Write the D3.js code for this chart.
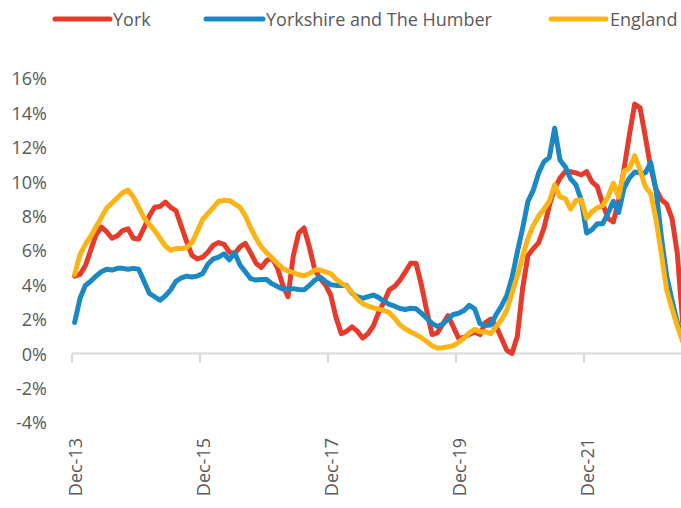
<!DOCTYPE html>
<html>
<head>
<meta charset="utf-8">
<script src="https://cdn.jsdelivr.net/npm/d3@7"></script>
<style>
  html, body { margin: 0; padding: 0; background: #fff; }
  svg { display: block; }
  text { font-family: "Open Sans", Lato, sans-serif; fill: #595959; }
</style>
</head>
<body>
<svg id="chart" width="681" height="508"></svg>
<script>
// ---- Data (annual % change, monthly Dec-13 .. Jun-23) ----
const seriesNames = ["York", "Yorkshire and The Humber", "England"];
const seriesColors = ["#e63a2b", "#1a88c3", "#fbb316"];

const york = [
  4.5, 4.6, 5.1, 6.0, 6.9, 7.35, 7.08, 6.7, 6.85, 7.15, 7.25, 6.7, 6.65,
  7.3, 8.0, 8.5, 8.55, 8.8, 8.5, 8.3, 7.4, 6.5, 5.7, 5.5, 5.6,
  5.9, 6.3, 6.45, 6.35, 5.9, 5.8, 6.2, 6.4, 5.85, 5.25, 5.0, 5.4,
  5.55, 5.0, 4.0, 3.3, 5.7, 7.0, 7.3, 6.2, 4.9, 4.35, 4.0, 3.4,
  2.1, 1.15, 1.3, 1.55, 1.3, 0.9, 1.15, 1.6, 2.4, 3.0, 3.7, 3.9,
  4.27, 4.75, 5.25, 5.25, 4.0, 2.5, 1.1, 1.2, 1.7, 2.2, 1.55, 0.88,
  0.95, 1.1, 1.25, 1.1, 1.8, 2.0, 1.6, 0.9, 0.2, 0.0, 1.0, 3.8,
  5.7, 6.1, 6.45, 7.3, 8.6, 9.6, 10.2, 10.57, 10.57, 10.5, 10.38, 10.57,
  9.98, 9.7, 8.7, 7.85, 7.65, 8.9, 10.7, 12.7, 14.5, 14.3, 12.6, 10.8,
  9.55, 8.95, 8.68, 7.85, 5.8, 1.8
];
const yorkshire = [
  1.8, 3.2, 3.95, 4.2, 4.5, 4.75, 4.9, 4.85, 4.95, 4.95, 4.9, 4.95, 4.9,
  4.2, 3.5, 3.3, 3.1, 3.35, 3.7, 4.2, 4.4, 4.5, 4.45, 4.5, 4.65,
  5.2, 5.5, 5.6, 5.8, 5.45, 5.85, 5.15, 4.75, 4.35, 4.27, 4.3, 4.3,
  4.05, 3.9, 3.75, 3.75, 3.77, 3.72, 3.7, 3.95, 4.25, 4.45, 4.2, 4.0,
  3.96, 3.95, 3.95, 3.5, 3.3, 3.2, 3.3, 3.4, 3.25, 3.05, 2.85, 2.75,
  2.62, 2.56, 2.63, 2.6, 2.35, 2.05, 1.75, 1.58, 1.7, 2.0, 2.27, 2.34,
  2.5, 2.8, 2.6, 1.73, 1.63, 1.65, 2.25, 2.75, 3.35, 4.4, 5.9, 7.3,
  8.85, 9.5, 10.5, 11.15, 11.4, 13.1, 11.25, 10.85, 10.15, 9.8, 8.9, 7.0,
  7.2, 7.55, 7.55, 8.15, 8.85, 8.2, 9.6, 10.2, 10.55, 10.5, 10.5, 11.1,
  9.5, 6.8, 4.5, 3.1, 1.8, 0.9
];
const england = [
  4.6, 5.75, 6.35, 6.8, 7.35, 7.9, 8.45, 8.75, 9.05, 9.35, 9.5, 9.1, 8.5,
  7.9, 7.5, 7.15, 6.7, 6.25, 6.0, 6.1, 6.1, 6.15, 6.45, 7.1, 7.8,
  8.15, 8.5, 8.85, 8.9, 8.9, 8.7, 8.5, 8.0, 7.3, 6.7, 6.2, 5.85,
  5.55, 5.25, 4.95, 4.8, 4.7, 4.58, 4.52, 4.65, 4.85, 4.85, 4.75, 4.65,
  4.33, 4.1, 3.9, 3.55, 3.15, 2.9, 2.76, 2.66, 2.58, 2.5, 2.37, 2.05,
  1.66, 1.43, 1.25, 1.1, 0.92, 0.7, 0.45, 0.32, 0.33, 0.39, 0.46, 0.65,
  0.9, 1.2, 1.4, 1.27, 1.27, 1.15, 1.55, 1.95, 2.5, 3.5, 4.5, 5.65,
  6.7, 7.45, 8.0, 8.4, 8.85, 9.8, 9.1, 9.0, 8.4, 8.9, 8.92, 7.86,
  8.25, 8.47, 8.6, 9.1, 9.9, 9.1, 10.6, 10.75, 11.5, 10.67, 9.7, 9.3,
  7.8, 5.8, 3.7, 2.6, 1.6, 0.7
];
const yTicks = [-4, -2, 0, 2, 4, 6, 8, 10, 12, 14, 16];
const xTickLabels = ["Dec-13", "Dec-15", "Dec-17", "Dec-19", "Dec-21"];

// ---- Categories: months Dec-13 .. Jun-23 ----
const fmt = d3.timeFormat("%b-%y");
const months = d3.timeMonth.range(new Date(2013, 11, 1), new Date(2023, 6, 1)).map(fmt);

const svg = d3.select("#chart");
const plotLeft = 72, monthW = 128 / 24;

const x = d3.scaleBand()
  .domain(months)
  .range([plotLeft, plotLeft + months.length * monthW])
  .paddingInner(0).paddingOuter(0);
const y = d3.scaleLinear().domain([-4, 16]).range([422.3, 78.3]);

// Y labels
svg.append("g").selectAll("text").data(yTicks).join("text")
  .attr("x", 47).attr("y", d => y(d))
  .attr("text-anchor", "end").attr("dominant-baseline", "central")
  .style("font-size", "18px")
  .text(d => d + "%");

// Zero axis line + ticks
const axisG = svg.append("g");
axisG.append("line")
  .attr("x1", x(months[0])).attr("x2", x(months[months.length - 1]) + x.bandwidth())
  .attr("y1", y(0)).attr("y2", y(0))
  .attr("stroke", "#d9d9d9").attr("stroke-width", 2);
axisG.selectAll("line.tick").data(xTickLabels).join("line")
  .attr("class", "tick")
  .attr("x1", d => x(d)).attr("x2", d => x(d))
  .attr("y1", y(0)).attr("y2", y(0) + 9)
  .attr("stroke", "#d9d9d9").attr("stroke-width", 2);

// X labels (low position, rotated)
svg.append("g").selectAll("text").data(xTickLabels).join("text")
  .attr("transform", d => `translate(${x(d) + x.bandwidth() / 2},438) rotate(-90)`)
  .attr("text-anchor", "end").attr("dominant-baseline", "central")
  .style("font-size", "18px")
  .text(d => d);

// Lines
const allSeries = [york, yorkshire, england];
const line = d3.line()
  .x((d, i) => x(months[i]) + x.bandwidth() / 2)
  .y(d => y(d));
svg.append("g").selectAll("path").data(allSeries).join("path")
  .attr("d", d => line(d))
  .attr("fill", "none")
  .attr("stroke", (d, i) => seriesColors[i])
  .attr("stroke-width", 5)
  .attr("stroke-linejoin", "round")
  .attr("stroke-linecap", "round");

// Legend
const legendX = [[55, 110, 113], [206, 263, 266], [551, 606, 610]];
const lg = svg.append("g");
seriesNames.forEach((name, i) => {
  lg.append("line")
    .attr("x1", legendX[i][0]).attr("x2", legendX[i][1])
    .attr("y1", 19).attr("y2", 19)
    .attr("stroke", seriesColors[i]).attr("stroke-width", 5)
    .attr("stroke-linecap", "round");
  lg.append("text")
    .attr("x", legendX[i][2]).attr("y", 19)
    .attr("dominant-baseline", "central")
    .style("font-size", "18px")
    .text(name);
});
</script>
</body>
</html>
